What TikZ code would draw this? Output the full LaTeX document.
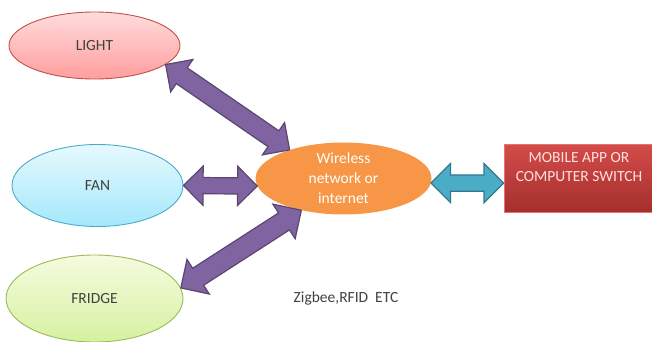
\documentclass[tikz,border=0pt]{standalone}
\usepackage{fontspec}
\setmainfont{Carlito}
\usetikzlibrary{shapes,shapes.arrows}
\usetikzlibrary{calc}

\definecolor{netorange}{HTML}{F79646}
\definecolor{linkpurple}{HTML}{8064A2}
\definecolor{linkteal}{HTML}{4BACC6}
\definecolor{apptop}{HTML}{D34C49}
\definecolor{appbottom}{HTML}{A52F2C}
\definecolor{lighttop}{HTML}{FFDCDC}
\definecolor{lightbottom}{HTML}{FF9E9E}
\definecolor{lightedge}{HTML}{C0504D}
\definecolor{fantop}{HTML}{E6F9FE}
\definecolor{fanbottom}{HTML}{A4E8FB}
\definecolor{fridgetop}{HTML}{F5FBE0}
\definecolor{fridgebottom}{HTML}{D6F1A0}
\definecolor{fridgeedge}{HTML}{9BBB59}

\begin{document}
\begin{tikzpicture}[x=1pt,y=-1pt,
  dev/.style={draw,line width=0.9pt,ellipse,inner sep=0pt,text=black!75,font=\fontsize{15.5}{19}\selectfont},
  link/.style={double arrow,draw=#1!70!black,fill=#1,line width=1.2pt,inner xsep=0pt}]
\useasboundingbox (0,0) rectangle (652,342);

% the three appliances
\node[dev,draw=lightedge,top color=lighttop,bottom color=lightbottom,minimum width=171pt,minimum height=67pt] (light) at (94.5,45.5) {LIGHT};
\node[dev,draw=linkteal,top color=fantop,bottom color=fanbottom,minimum width=171pt,minimum height=82pt] (fan) at (97.5,185.5) {FAN};
\node[dev,draw=fridgeedge,top color=fridgetop,bottom color=fridgebottom,minimum width=177pt,minimum height=87pt] (fridge) at (94.5,298.5) {FRIDGE};

% network in the middle
\node[ellipse,fill=netorange,inner sep=0pt,minimum width=176pt,minimum height=64pt,
  text=white,align=center,font=\fontsize{15.5}{20}\selectfont] (net) at (343.5,178.5) {Wireless\\network or\\internet};

% switching side
\node[draw=red!50!white!90!black,line width=0.8pt,top color=apptop,bottom color=appbottom,
  minimum width=150pt,minimum height=68pt,inner sep=0pt,text=red!12,align=center,
  text depth=22pt,font=\fontsize{15.5}{19}\selectfont] (app) at (579,178) {MOBILE APP OR\\COMPUTER SWITCH};

\node[text=black!75,font=\fontsize{15.5}{19}\selectfont] (tag) at (346,298) {Zigbee,RFID~~ETC};

% fat two-way arrows: from/to/colour/half shaft/head extend
\foreach \a/\b/\c/\w/\e in {light.-15/net.152/linkpurple/9/10, fan.east/net.185/linkpurple/7.5/11.5,
    fridge.7/net.-143/linkpurple/9.5/10.5, net.-3/app.west |- net.-3/linkteal/7.5/11.5}
  \path let \p1=(\a), \p2=(\b), \n1={atan2(\y2-\y1,\x2-\x1)}, \n2={veclen(\x2-\x1,\y2-\y1)} in
    node[link=\c, inner ysep=\w pt, double arrow head extend=\e pt, rotate=\n1, minimum height=\n2]
      at ($(\p1)!0.5!(\p2)$) {};
\end{tikzpicture}
\end{document}
